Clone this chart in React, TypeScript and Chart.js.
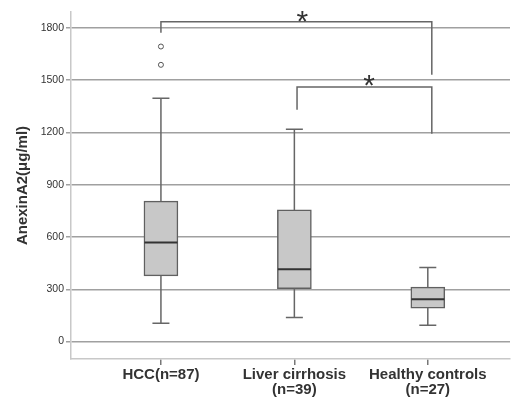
import React, { useEffect, useRef } from "react";
import { Chart, registerables } from "chart.js";

Chart.register(...registerables);

// groups and box statistics (ug/ml)
const groups = [["HCC(n=87)"], ["Liver cirrhosis", "(n=39)"], ["Healthy controls", "(n=27)"]];
const whiskerLow = [105, 138, 94];
const q1 = [377, 304, 192];
const median = [568, 415, 243];
const q3 = [805, 755, 312];
const whiskerHigh = [1395, 1218, 425];
const outlierGroup = [1, 1];
const outlierValue = [1587, 1692];
const yTicks = [0, 300, 600, 900, 1200, 1500, 1800];

// significance brackets
const bracketFrom = [1, 2.02];
const bracketTo = [3.03, 3.03];
const bracketTop = [1834, 1460];
const bracketLeftEnd = [1771, 1330];
const bracketRightEnd = [1530, 1192];
const starX = [2.06, 2.56];
const starY = [1863, 1499];

const FONT = '"Liberation Sans", Arial, sans-serif';

const boxPlugin = {
  id: "boxExtras",
  afterDatasetsDraw(chart: any) {
    const { ctx, scales } = chart;
    const xs = scales.x;
    const ys = scales.y;
    ctx.save();
    ctx.lineCap = "butt";
    groups.forEach((_, i) => {
      const cx = xs.getPixelForValue(i + 1);
      const capHalf = 8.5;
      ctx.strokeStyle = "#666";
      ctx.lineWidth = 1.5;
      ctx.beginPath();
      ctx.moveTo(cx, ys.getPixelForValue(q3[i]));
      ctx.lineTo(cx, ys.getPixelForValue(whiskerHigh[i]));
      ctx.moveTo(cx, ys.getPixelForValue(q1[i]));
      ctx.lineTo(cx, ys.getPixelForValue(whiskerLow[i]));
      ctx.moveTo(cx - capHalf, ys.getPixelForValue(whiskerHigh[i]));
      ctx.lineTo(cx + capHalf, ys.getPixelForValue(whiskerHigh[i]));
      ctx.moveTo(cx - capHalf, ys.getPixelForValue(whiskerLow[i]));
      ctx.lineTo(cx + capHalf, ys.getPixelForValue(whiskerLow[i]));
      ctx.stroke();
      ctx.strokeStyle = "#333";
      ctx.lineWidth = 2;
      ctx.beginPath();
      ctx.moveTo(cx - 16.5, ys.getPixelForValue(median[i]));
      ctx.lineTo(cx + 16.5, ys.getPixelForValue(median[i]));
      ctx.stroke();
    });

    ctx.strokeStyle = "#666";
    ctx.lineWidth = 1.5;
    bracketFrom.forEach((from, i) => {
      const x1 = xs.getPixelForValue(from);
      const x2 = xs.getPixelForValue(bracketTo[i]);
      const yt = ys.getPixelForValue(bracketTop[i]);
      ctx.beginPath();
      ctx.moveTo(x1, ys.getPixelForValue(bracketLeftEnd[i]));
      ctx.lineTo(x1, yt);
      ctx.lineTo(x2, yt);
      ctx.lineTo(x2, ys.getPixelForValue(bracketRightEnd[i]));
      ctx.stroke();

      ctx.fillStyle = "#333";
      ctx.font = `30px ${FONT}`;
      ctx.textAlign = "center";
      ctx.textBaseline = "alphabetic";
      const m = ctx.measureText("*");
      const mid = (m.actualBoundingBoxAscent - m.actualBoundingBoxDescent) / 2;
      ctx.fillText("*", xs.getPixelForValue(starX[i]), ys.getPixelForValue(starY[i]) + mid);
    });
    ctx.restore();
  },
};

const App = () => {
  const ref = useRef<HTMLCanvasElement>(null!);

  useEffect(() => {
    const chart = new Chart(ref.current, {
      type: "bar",
      data: {
        datasets: [
          {
            type: "bar",
            data: groups.map((_, i) => ({ x: i + 1, y: [q1[i], q3[i]] })) as any,
            backgroundColor: "#c8c8c8",
            borderColor: "#606060",
            borderWidth: 1.5,
            borderSkipped: false,
            barThickness: 34,
          },
          {
            type: "scatter",
            data: outlierValue.map((v, i) => ({ x: outlierGroup[i], y: v })) as any,
            pointStyle: "circle",
            pointRadius: 2.5,
            backgroundColor: "#fff",
            borderColor: "#555",
            borderWidth: 1,
          },
        ],
      },
      options: {
        animation: false,
        responsive: true,
        maintainAspectRatio: false,
        layout: { padding: { top: 12, right: 1, left: 0, bottom: 0 } },
        plugins: { legend: { display: false }, tooltip: { enabled: false } },
        scales: {
          x: {
            type: "linear",
            min: 0.326,
            max: 3.616,
            offset: false,
            afterBuildTicks: (scale: any) => {
              scale.ticks = groups.map((_, i) => ({ value: i + 1 }));
            },
            afterFit: (scale: any) => {
              scale.height = 44;
            },
            ticks: {
              autoSkip: false,
              maxRotation: 0,
              padding: 3,
              color: "#333",
              font: { family: FONT, size: 15, weight: "bold", lineHeight: 0.95 },
              callback: (v: any) => groups[Math.round(Number(v)) - 1] ?? "",
            },
            grid: { offset: false, drawOnChartArea: false, drawTicks: true, tickLength: 6, color: "#777", lineWidth: 1.5 },
            border: { display: true, color: "#c8c8c8", width: 1.5 },
          },
          y: {
            min: -100,
            max: 1890,
            afterBuildTicks: (scale: any) => {
              scale.ticks = yTicks.map((v) => ({ value: v }));
            },
            afterFit: (scale: any) => {
              scale.width = 71;
            },
            ticks: {
              padding: 2,
              color: "#333",
              font: { family: FONT, size: 10.5 },
              callback: (v: any) => String(v),
            },
            grid: { color: "#a0a0a0", lineWidth: 1.5, tickLength: 5 },
            border: { display: true, color: "#c8c8c8", width: 1.5 },
            title: {
              display: true,
              text: "AnexinA2(μg/ml)",
              color: "#333",
              font: { family: FONT, size: 15, weight: "bold" },
              padding: { top: 14, bottom: 0 },
            },
          },
        },
      },
      plugins: [boxPlugin],
    } as any);
    return () => {
      chart.destroy();
    };
  }, []);

  return (
    <div style={{ position: "absolute", left: 0, top: 0, width: 515, height: 403, background: "#fff" }}>
      <canvas ref={ref} />
    </div>
  );
};

export default App;
